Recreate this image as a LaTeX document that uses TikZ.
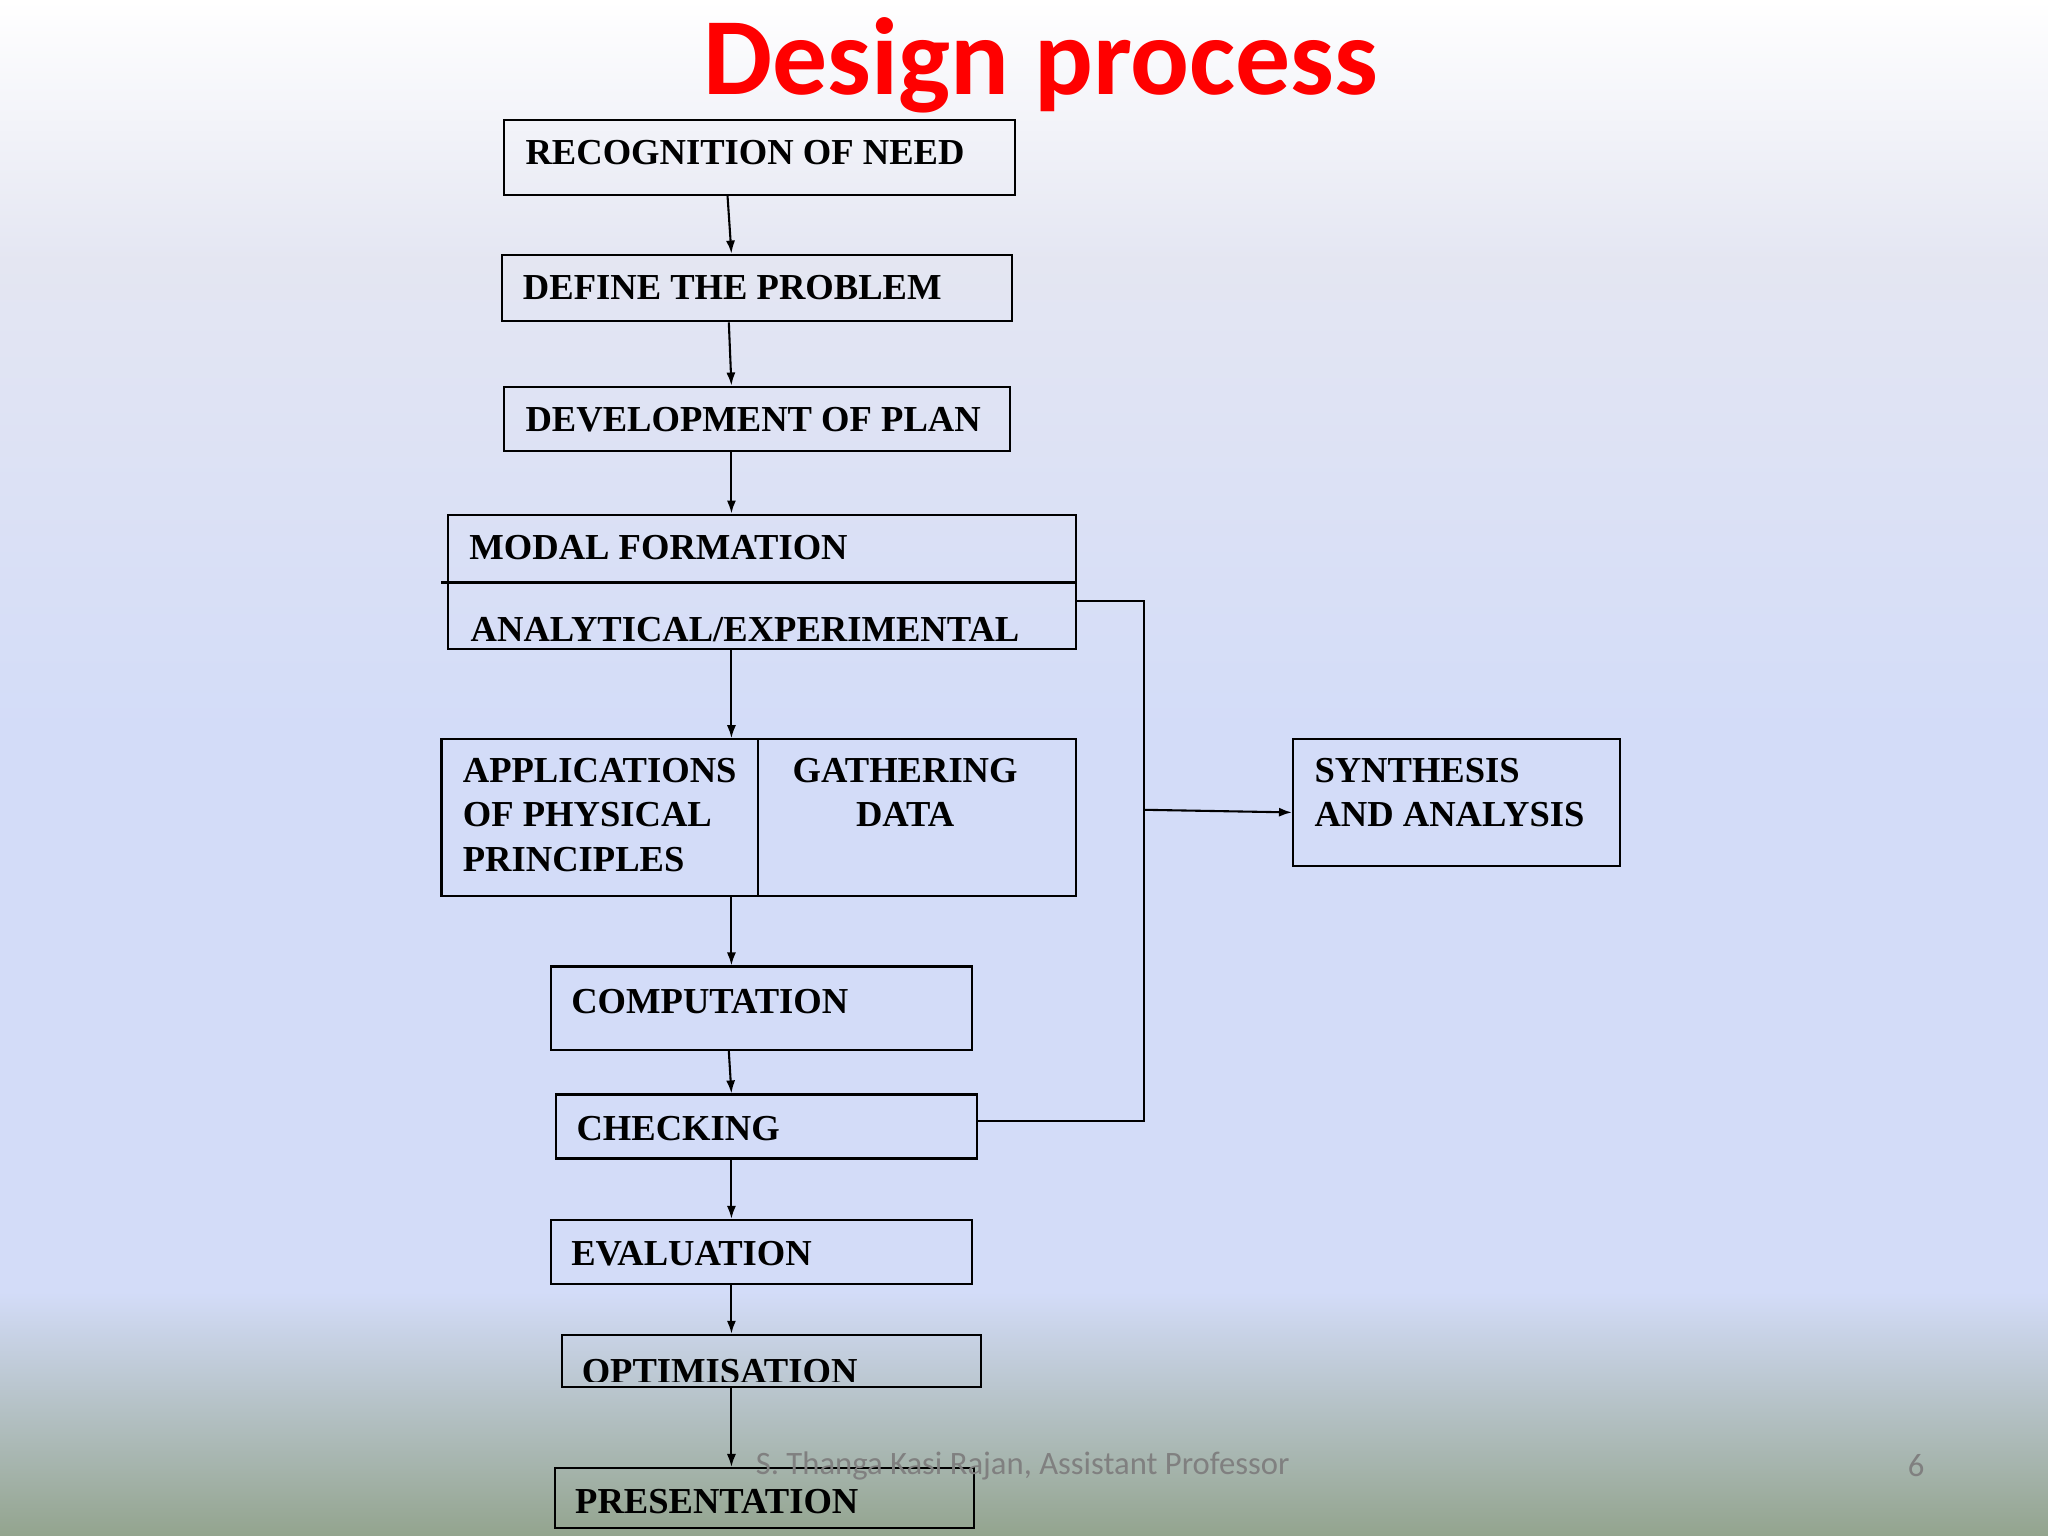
\documentclass[tikz,border=0pt]{standalone}
\usepackage{fontspec}
\usetikzlibrary{arrows.meta}
\setmainfont{Liberation Serif}
\newfontfamily\calfont{Carlito}
\definecolor{bgbot}{HTML}{93A48E}
\definecolor{bgmid}{HTML}{D3DCF8}
\definecolor{bgup}{HTML}{E4E6F2}
\begin{document}
\begin{tikzpicture}[x=0.5pt,y=-0.5pt,
  bx/.style={draw,thick,inner sep=0},
  tx/.style={anchor=west,font=\bfseries\fontsize{14}{17}\selectfont,inner sep=0},
  ar/.style={-{Latex[length=5pt,width=3.5pt]},thick}]
\useasboundingbox (0,0) rectangle (1568,1176);
\fill[top color=white,bottom color=bgup] (0,0) rectangle (1568,200);
\fill[top color=bgup,bottom color=bgmid] (0,199) rectangle (1568,560);
\fill[bgmid] (0,559) rectangle (1568,990);
\fill[top color=bgmid,bottom color=bgbot] (0,989) rectangle (1568,1176);
\node[text=red,font=\calfont\bfseries\fontsize{42}{48}\selectfont] (title) at (797,50) {Design process};
\node[bx,minimum width=195.5pt,minimum height=28.5pt] (need) at (581.5,120.5) {};
\node[tx] at (402,117) {RECOGNITION OF NEED};
\node[bx,minimum width=195.5pt,minimum height=25.5pt] (def) at (579.5,220.5) {};
\node[tx] at (400,220) {DEFINE THE PROBLEM};
\node[bx,minimum width=193.5pt,minimum height=24.5pt] (plan) at (579.5,320.5) {};
\node[tx] at (402,321) {DEVELOPMENT OF PLAN};
\node[bx,minimum width=240.5pt,minimum height=51.5pt] (modal) at (583.5,445.5) {};
\draw[thick] (338,446) -- (824,446);
\node[tx] at (359,419) {MODAL FORMATION};
\begin{scope}
\clip (343,446) rectangle (824,493);
\node[tx] at (360,482) {ANALYTICAL/EXPERIMENTAL};
\end{scope}
\node[bx,minimum width=243pt,minimum height=60pt] (apps) at (581,626) {};
\draw[thick] (580,566) -- (580,686);
\node[tx,align=left,anchor=north west] at (354,580) {APPLICATIONS\\OF PHYSICAL\\PRINCIPLES};
\node[tx,align=center,anchor=north] at (693,580) {GATHERING\\DATA};
\node[bx,minimum width=125pt,minimum height=48.5pt] (syn) at (1115,614.5) {};
\node[tx,align=left,anchor=north west] at (1006,580) {SYNTHESIS\\AND ANALYSIS};
\node[bx,minimum width=161pt,minimum height=32pt] (comp) at (583,772) {};
\node[tx] at (437,767) {COMPUTATION};
\node[bx,minimum width=161pt,minimum height=24.5pt] (chk) at (587,862.5) {};
\node[tx] at (441,864) {CHECKING};
\node[bx,minimum width=161pt,minimum height=24.5pt] (eval) at (583,958.5) {};
\node[tx] at (437,960) {EVALUATION};
\node[bx,minimum width=160.5pt,minimum height=20pt] (opt) at (590.5,1042) {};
\begin{scope}
\clip (430,1022) rectangle (751,1058);
\node[tx] at (445,1050) {OPTIMISATION};
\end{scope}
\node[bx,minimum width=160.5pt,minimum height=23pt] (pres) at (585.5,1147) {};
\node[tx] at (440,1150) {PRESENTATION};
\node[text=gray,font=\calfont\fontsize{12.5}{14}\selectfont] (foot) at (783,1122) {S. Thanga Kasi Rajan, Assistant Professor};
\node[text=gray,font=\calfont\fontsize{12.5}{14}\selectfont] (pg) at (1467,1122) {6};
\draw[ar] (need.south -| 557,0) -- (def.north -| 560,0);
\draw[ar] (def.south -| 558,0) -- (plan.north -| 560,0);
\draw[ar] (plan.south -| 560,0) -- (modal.north -| 560,0);
\draw[ar] (modal.south -| 560,0) -- (apps.north -| 560,0);
\draw[ar] (apps.south -| 560,0) -- (comp.north -| 560,0);
\draw[ar] (comp.south -| 558,0) -- (chk.north -| 560,0);
\draw[ar] (chk.south -| 560,0) -- (eval.north -| 560,0);
\draw[ar] (eval.south -| 560,0) -- (opt.north -| 560,0);
\draw[ar] (opt.south -| 560,0) -- (pres.north -| 560,0);
\draw[thick] (modal.east |- 0,460) -- (876,460) -- (876,858) -- (chk.east |- 0,858);
\coordinate (j) at (876,620);
\draw[ar] (j) -- (syn.west |- 0,622);
\end{tikzpicture}
\end{document}
